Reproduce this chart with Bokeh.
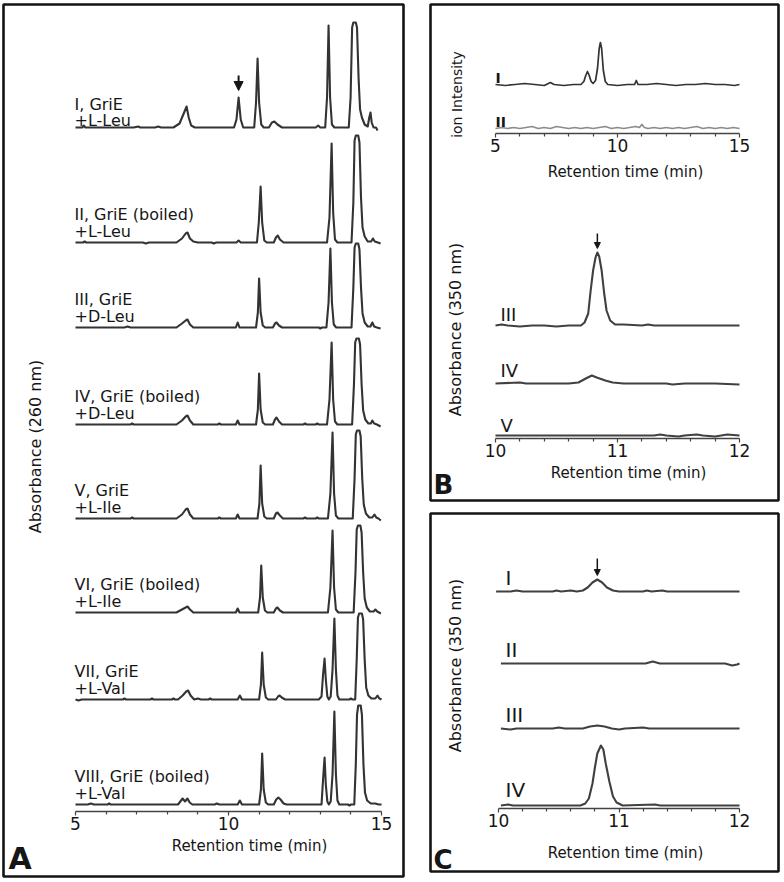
import math
from bokeh.plotting import figure
from bokeh.models import (Range1d, LinearAxis, FixedTicker, Label, BoxAnnotation,
                          Arrow, NormalHead)
from bokeh.embed import file_html
from bokeh.resources import INLINE

# ---------------- data (retention time in min, signal in arbitrary units) ----------------
# Panel A: absorbance at 260 nm
A1 = [(5.00,0),(5.22,0),(5.27,2),(5.32,0),(6.00,0),(6.90,0),(7.05,1),(7.12,0),(7.20,0),(7.60,0),(7.70,1),(7.80,0),
      (8.20,0),(8.40,4),(8.55,15),(8.63,21),(8.70,10),(8.78,2),(8.90,0),(10.18,0),(10.26,8),(10.33,30),(10.40,8),(10.48,0),
      (10.84,0),(10.90,25),(10.95,69),(11.00,25),(11.07,3),(11.15,0),(11.32,0),(11.42,5),(11.50,6),(11.60,3),(11.75,0),
      (12.85,0),(12.93,2),(13.00,0),(13.16,0),(13.22,30),(13.27,102),(13.32,30),(13.38,3),(13.46,0),
      (13.93,0),(13.99,30),(14.04,100),(14.08,105),(14.16,105),(14.20,100),(14.25,50),(14.30,18),(14.36,10),(14.45,3),(14.55,1),
      (14.60,10),(14.64,15),(14.68,5),(14.74,0),(14.82,0),(14.87,-3)]
A2 = [(5.00,0),(5.25,0),(5.30,1),(5.35,0),(7.20,0),(7.30,-1),(7.40,0),(8.30,0),(8.48,4),(8.60,9),(8.66,10),(8.74,4),(8.85,1),
      (9.00,0),(9.45,0),(9.52,-1),(9.60,0),(10.26,0),(10.33,2),(10.40,0),(10.93,0),(10.99,20),(11.05,56),(11.10,20),(11.17,2),
      (11.25,0),(11.48,0),(11.55,5),(11.61,7),(11.68,3),(11.80,0),(13.22,0),(13.30,25),(13.37,99),(13.42,30),(13.48,3),(13.56,0),
      (14.02,0),(14.08,40),(14.12,102),(14.16,107),(14.24,107),(14.28,100),(14.33,45),(14.38,15),(14.45,6),(14.55,1),(14.66,1),
      (14.72,4),(14.78,1),(14.88,0),(14.97,-1)]
A3 = [(5.00,0),(6.60,0),(6.70,1),(6.80,0),(8.30,0),(8.48,4),(8.60,7),(8.66,8),(8.74,3),(8.85,0),(10.24,0),(10.30,5),(10.36,0),
      (10.90,0),(10.96,15),(11.00,49),(11.05,15),(11.12,2),(11.20,0),(11.45,0),(11.52,4),(11.57,5),(11.65,2),(11.75,0),
      (12.95,0),(13.00,-1),(13.05,0),(13.20,0),(13.27,25),(13.33,79),(13.38,25),(13.44,3),(13.52,0),(14.02,0),(14.08,40),
      (14.12,80),(14.16,84),(14.24,84),(14.28,78),(14.33,40),(14.38,14),(14.45,5),(14.55,1),(14.64,1),(14.70,5),(14.76,1),
      (14.85,0),(14.97,-1)]
A4 = [(5.00,0),(6.80,0),(6.85,1),(6.90,0),(8.30,0),(8.48,4),(8.60,8),(8.66,9),(8.74,4),(8.85,0),(9.65,0),(9.70,1),(9.75,0),
      (10.24,0),(10.30,4),(10.36,0),(10.90,0),(10.96,15),(11.00,51),(11.05,15),(11.12,2),(11.20,0),(11.45,0),(11.52,5),(11.57,7),
      (11.65,3),(11.75,0),(12.45,0),(12.50,1),(12.55,0),(12.85,0),(12.90,1),(12.95,0),(13.22,0),(13.30,25),(13.37,82),(13.42,25),
      (13.48,3),(13.56,0),(14.04,0),(14.10,40),(14.14,82),(14.18,86),(14.26,86),(14.30,80),(14.35,40),(14.40,14),(14.47,5),
      (14.57,1),(14.65,1),(14.70,4),(14.76,1),(14.85,0),(14.97,-2)]
A5 = [(5.00,0),(6.80,0),(6.85,1),(6.90,0),(8.30,0),(8.48,4),(8.60,9),(8.66,10),(8.74,4),(8.85,0),(9.65,0),(9.70,1),(9.75,0),
      (10.24,0),(10.30,4),(10.36,0),(10.95,0),(11.01,15),(11.05,53),(11.10,15),(11.17,2),(11.25,0),(11.48,0),(11.55,5),(11.60,6),
      (11.68,3),(11.78,0),(12.45,0),(12.50,1),(12.55,0),(12.85,0),(12.90,1),(12.95,0),(13.25,0),(13.33,25),(13.40,86),(13.45,25),
      (13.51,3),(13.59,0),(14.06,0),(14.12,40),(14.16,84),(14.20,88),(14.28,88),(14.32,82),(14.37,40),(14.42,14),(14.49,5),
      (14.60,1),(14.70,1),(14.77,4),(14.83,1),(14.90,0),(14.98,-2)]
A6 = [(5.00,0),(8.30,0),(8.48,3),(8.60,5),(8.66,6),(8.74,3),(8.85,0),(10.24,0),(10.30,4),(10.36,0),(10.97,0),(11.03,15),
      (11.07,47),(11.12,15),(11.19,2),(11.27,0),(11.48,0),(11.55,4),(11.60,5),(11.68,2),(11.78,0),(13.25,0),(13.33,25),(13.40,82),
      (13.45,25),(13.51,3),(13.59,0),(14.09,0),(14.15,40),(14.19,83),(14.23,87),(14.31,87),(14.35,80),(14.40,40),(14.45,14),
      (14.52,5),(14.62,1),(14.74,1),(14.80,3),(14.86,1),(14.98,-1)]
A7 = [(5.00,0),(5.10,-1),(5.20,0),(6.55,0),(6.60,1),(6.65,0),(7.45,0),(7.50,1),(7.55,0),(8.15,0),(8.20,1),(8.25,0),(8.35,0),
      (8.50,4),(8.62,8),(8.68,9),(8.76,4),(8.88,0),(9.00,1),(9.10,0),(9.35,0),(9.40,1),(9.45,0),(10.30,0),(10.37,4),(10.44,0),
      (11.00,0),(11.06,15),(11.10,47),(11.15,15),(11.22,2),(11.30,0),(11.55,0),(11.62,3),(11.67,4),(11.74,2),(11.85,0),
      (12.95,0),(13.04,3),(13.09,25),(13.14,41),(13.18,20),(13.23,3),(13.28,0),(13.34,3),(13.40,30),(13.46,81),(13.51,30),
      (13.56,4),(13.62,0),(13.95,0),(14.00,1),(14.05,0),(14.14,0),(14.19,40),(14.23,82),(14.27,86),(14.36,86),(14.40,80),
      (14.45,40),(14.50,12),(14.57,4),(14.67,1),(14.80,1),(14.87,4),(14.93,1),(15.00,0)]
A8 = [(5.00,0),(5.40,0),(5.50,1),(5.60,0),(6.05,0),(6.10,1),(6.15,0),(8.35,0),(8.45,4),(8.50,6),(8.58,3),(8.66,6),(8.73,2),
      (8.82,0),(9.55,0),(9.62,1),(9.70,0),(10.30,0),(10.37,4),(10.44,0),(11.00,0),(11.06,15),(11.10,51),(11.15,15),(11.22,2),
      (11.30,0),(11.48,0),(11.56,5),(11.63,7),(11.70,5),(11.80,1),(11.90,0),(13.04,0),(13.09,25),(13.14,47),(13.18,20),
      (13.23,3),(13.28,0),(13.34,3),(13.40,30),(13.46,93),(13.51,30),(13.56,4),(13.62,0),(13.90,0),(13.95,-1),(14.00,0),
      (14.11,0),(14.16,40),(14.20,90),(14.24,99),(14.32,99),(14.36,90),(14.41,40),(14.46,12),(14.53,4),(14.65,1),(14.80,1),
      (14.90,0),(15.00,0)]
A_names = ["I, GriE", "II, GriE (boiled)", "III, GriE", "IV, GriE (boiled)",
           "V, GriE", "VI, GriE (boiled)", "VII, GriE", "VIII, GriE (boiled)"]
A_subs = ["+L-Leu", "+L-Leu", "+D-Leu", "+D-Leu", "+L-Ile", "+L-Ile", "+L-Val", "+L-Val"]

# Panel B (top): ion intensity
B1_I = [(5.00,0),(5.40,-1),(5.80,0),(6.20,1),(6.60,0),(7.00,-1),(7.25,2),(7.40,0),(7.80,-1),(8.20,0),(8.50,0),(8.62,3),
        (8.70,9),(8.77,13),(8.84,9),(8.92,3),(9.00,1),(9.10,4),(9.18,16),(9.25,36),(9.30,42),(9.35,36),(9.42,14),(9.50,3),
        (9.60,0),(10.00,-1),(10.40,0),(10.70,0),(10.77,4),(10.84,0),(11.20,0),(11.60,1),(12.00,0),(12.40,-1),(12.80,0),
        (13.20,0),(13.60,1),(14.00,0),(14.40,0),(14.80,-1),(15.00,0)]
B1_II = [(5.00,0),(5.25,1),(5.50,0),(5.75,1),(6.00,0),(6.25,1),(6.50,2),(6.75,0),(7.00,1),(7.25,0),(7.50,2),(7.75,1),
         (8.00,0),(8.25,1),(8.50,0),(8.75,1),(9.00,0),(9.25,1),(9.50,2),(9.75,0),(10.00,1),(10.25,0),(10.50,1),(10.75,2),
         (10.90,1),(11.00,4),(11.10,1),(11.25,0),(11.50,1),(11.75,0),(12.00,1),(12.25,0),(12.50,1),(12.75,0),(13.00,1),
         (13.25,2),(13.50,0),(13.75,1),(14.00,0),(14.25,1),(14.50,0),(14.75,1),(15.00,0)]
B1_names = ["I", "II"]

# Panel B (bottom): absorbance at 350 nm
B2_III = [(10.00,0),(10.05,1),(10.10,0),(10.20,-1),(10.30,0),(10.40,0),(10.50,-1),(10.60,0),(10.70,0),(10.73,3),(10.76,12),
          (10.78,35),(10.80,55),(10.82,68),(10.835,73),(10.85,69),(10.87,55),(10.89,33),(10.91,15),(10.94,5),(10.98,1),
          (11.05,1),(11.20,0),(11.25,1),(11.30,0),(11.50,0),(12.00,0)]
B2_IV = [(10.00,0),(10.20,1),(10.25,0),(10.60,0),(10.68,1),(10.74,5),(10.79,8),(10.83,6),(10.90,3),(10.96,1),(11.05,0),
         (11.40,0),(11.45,-1),(11.55,0),(11.80,0),(12.00,-1)]
B2_V = [(10.00,0),(11.30,0),(11.35,1),(11.40,0),(11.50,-1),(11.55,0),(11.65,1),(11.70,0),(11.80,-1),(11.85,0),(11.90,1),(12.00,0)]
B2_names = ["III", "IV", "V"]

# Panel C: absorbance at 350 nm
C_I = [(9.98,0),(10.10,0),(10.15,1),(10.20,0),(10.45,0),(10.48,1),(10.52,0),(10.60,1),(10.65,0),(10.70,1),(10.74,4),
       (10.78,9),(10.82,12),(10.86,9),(10.90,4),(10.95,1),(11.00,0),(11.20,0),(11.23,1),(11.27,0),(11.36,1),(11.40,0),(12.00,0)]
C_II = [(10.02,0),(11.22,0),(11.28,2),(11.34,0),(11.88,0),(11.94,-2),(11.98,-1),(12.00,0)]
C_III = [(10.02,0),(10.10,-1),(10.15,0),(10.45,0),(10.50,1),(10.55,0),(10.70,0),(10.76,2),(10.82,3),(10.88,2),(10.94,0),
         (11.00,-1),(11.05,0),(11.20,1),(11.25,0),(12.00,0)]
C_IV = [(10.02,0),(10.08,1),(10.12,0),(10.68,0),(10.72,2),(10.75,7),(10.78,22),(10.80,38),(10.82,52),(10.85,60),(10.87,56),
        (10.89,42),(10.92,24),(10.95,9),(10.98,3),(11.03,0),(11.30,1),(11.34,0),(12.00,0)]
C_names = ["I", "II", "III", "IV"]

ticks_long = [5, 10, 15]
minor_long = [6, 7, 8, 9, 11, 12, 13, 14]
ticks_short = [10, 11, 12]
minor_short = [10.2, 10.4, 10.6, 10.8, 11.2, 11.4, 11.6, 11.8]
arrow_A = 10.33
arrow_B = 10.835
arrow_C = 10.82

# ---------------- layout (reference pixel positions) ----------------
W, H = 784, 882
FONT = "DejaVu Sans"
INK = "#161616"
TRACE = "#333333"

def time_range(t0, t1, r0, r1):
    k = (r1 - r0) / (t1 - t0)
    return Range1d(start=t0 - r0 / k, end=t0 + (W - r0) / k)

def base_range(rb):
    return Range1d(start=rb - H, end=rb)

p = figure(width=W, height=H, x_range=Range1d(0, W), y_range=Range1d(H, 0),
           x_axis_type=None, y_axis_type=None, toolbar_location=None,
           output_backend="svg", min_border=0, outline_line_color=None,
           background_fill_color="white", border_fill_color="white")

xr = {"A": time_range(5, 15, 75, 381), "B1": time_range(5, 15, 495, 739),
      "B2": time_range(10, 12, 495, 739), "C": time_range(10, 12, 498, 739)}
yr = {}

A_base = [127, 242, 327, 424, 518, 612, 699, 804]
B1_base = [84, 128]
B2_base = [325, 383, 435]
C_base = [591, 663, 728, 805]

traces = []
for i, (d, b) in enumerate(zip([A1, A2, A3, A4, A5, A6, A7, A8], A_base)):
    traces.append(("A", "A%d" % i, d, b, TRACE, 2.1))
for i, (d, b) in enumerate(zip([B1_I, B1_II], B1_base)):
    traces.append(("B1", "B1%d" % i, d, b, TRACE if i == 0 else "#8c8c8c", 1.7))
for i, (d, b) in enumerate(zip([B2_III, B2_IV, B2_V], B2_base)):
    traces.append(("B2", "B2%d" % i, d, b, "#404040", 2.1))
for i, (d, b) in enumerate(zip([C_I, C_II, C_III, C_IV], C_base)):
    traces.append(("C", "C%d" % i, d, b, "#404040", 2.1))

for xname, yname, d, b, col, lw in traces:
    yr[yname] = base_range(b)
p.extra_x_ranges = xr
p.extra_y_ranges = yr

for xname, yname, d, b, col, lw in traces:
    t = [q[0] for q in d]
    v = [q[1] for q in d]
    p.line(t, v, x_range_name=xname, y_range_name=yname, line_color=col, line_width=lw,
           line_join="round")

# panel frames
for l, t_, r, b in [(3, 4, 403, 876), (430, 4, 778, 500), (430, 513, 778, 871)]:
    p.add_layout(BoxAnnotation(left=l, right=r, top=t_, bottom=b,
                               fill_color=None, fill_alpha=0, line_color="#141414",
                               line_alpha=1.0, line_width=2.6))

# axes
def add_axis(name, ref_y, bounds, ticks, minor):
    ax = LinearAxis(x_range_name=name, fixed_location=ref_y, bounds=bounds,
                    ticker=FixedTicker(ticks=ticks, minor_ticks=minor))
    ax.axis_line_color = "#444444"
    ax.axis_line_width = 1.6
    ax.major_tick_in = 0
    ax.major_tick_out = 4
    ax.minor_tick_in = 0
    ax.minor_tick_out = 3
    ax.major_tick_line_color = "#444444"
    ax.minor_tick_line_color = "#444444"
    ax.major_tick_line_width = 1.2
    ax.minor_tick_line_width = 1.2
    ax.major_label_text_font = FONT
    ax.major_label_text_font_size = "17px"
    ax.major_label_text_color = INK
    ax.major_label_standoff = 1
    p.add_layout(ax, "below")

add_axis("A", 811, (5, 15), ticks_long, minor_long)
add_axis("B1", 133, (5, 15), ticks_long, minor_long)
add_axis("B2", 438, (10, 12), ticks_short, minor_short)
add_axis("C", 808, (10, 12), ticks_short, minor_short)

def label(x, y, text, size, align="left", angle=0.0, bold=False):
    # y is the vertical centre of the text
    p.add_layout(Label(x=x, y=y, text=text, text_font=FONT, text_font_size="%dpx" % size,
                       text_color=INK, text_align=align, text_baseline="middle", angle=angle,
                       text_font_style="bold" if bold else "normal"))

# Panel A labels (centre offsets above each trace baseline)
for i, b in enumerate(A_base):
    if i == 0:
        c1, c2 = b - 23, b - 7.5
    else:
        c1, c2 = b - 28, b - 11
    label(74, c1, A_names[i], 16)
    label(74, c2, A_subs[i], 16)

# Panel B / C trace labels
for name, c in zip(B1_names, [77, 121]):
    label(495, c, name, 14, bold=True)
for name, c in zip(B2_names, [313.5, 370, 425]):
    label(500, c, name, 18)
for name, c in zip(C_names, [577.5, 649, 714.5, 789.5]):
    label(505, c, name, 20)

# axis titles
label(249, 845, "Retention time (min)", 15, align="center")
label(625, 171, "Retention time (min)", 15, align="center")
label(628, 472, "Retention time (min)", 15, align="center")
label(625, 852, "Retention time (min)", 15, align="center")
label(35, 446, "Absorbance (260 nm)", 16, align="center", angle=math.pi / 2)
label(456, 94, "ion Intensity", 14, align="center", angle=math.pi / 2)
label(455, 329, "Absorbance (350 nm)", 16, align="center", angle=math.pi / 2)
label(455, 665, "Absorbance (350 nm)", 16, align="center", angle=math.pi / 2)

# panel letters
label(8, 857.5, "A", 30, bold=True)
label(433, 484, "B", 26, bold=True)
label(433, 859, "C", 26, bold=True)

# arrows marking the product peak
def arrow(xname, yname, t, v0, v1, size, lw):
    p.add_layout(Arrow(end=NormalHead(size=size, fill_color=INK, line_color=INK),
                       x_start=t, y_start=v0, x_end=t, y_end=v1,
                       x_range_name=xname, y_range_name=yname,
                       line_color=INK, line_width=lw))

arrow("A", "A0", arrow_A, 52, 37, 9, 2)
arrow("B2", "B20", arrow_B, 92, 77, 6, 1.5)
arrow("C", "C0", arrow_C, 33, 16, 6, 1.5)

open("out.html", "w").write(file_html(p, INLINE))
